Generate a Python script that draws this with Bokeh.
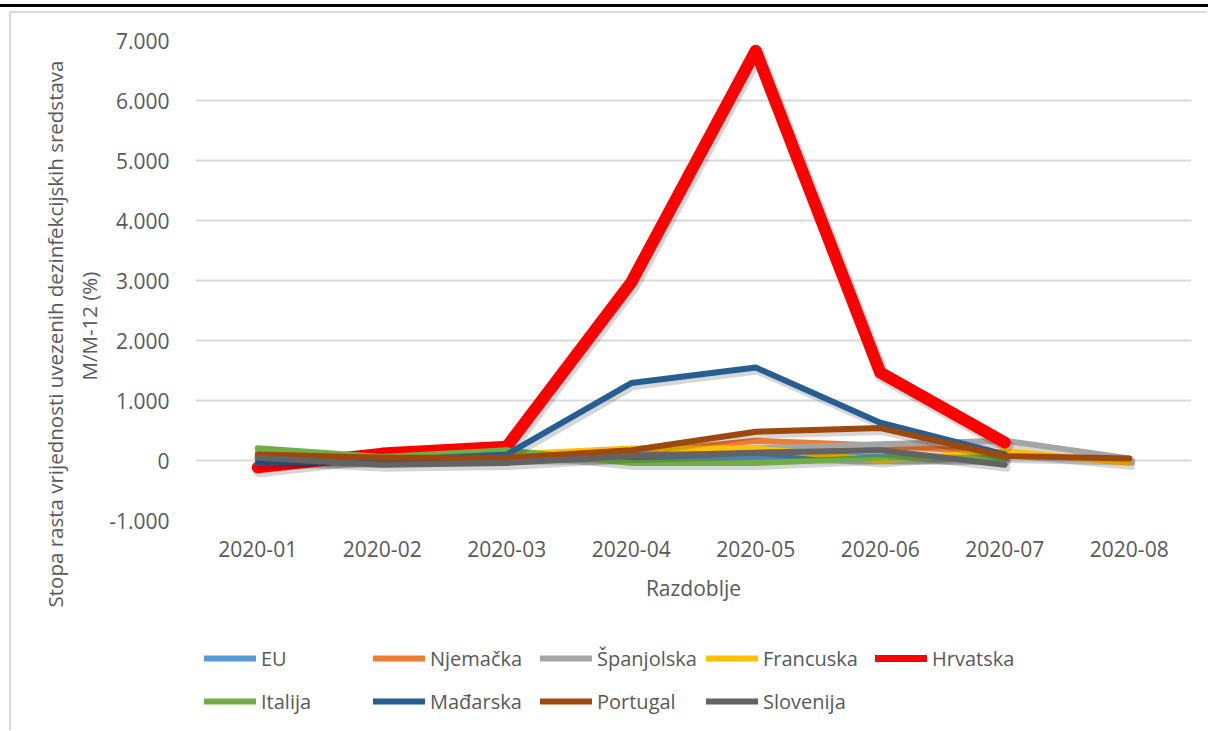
from bokeh.plotting import figure
from bokeh.models import FixedTicker, Legend, LegendItem, Title, Div, Range1d
from bokeh.layouts import column
from bokeh.embed import file_html
from bokeh.resources import INLINE

nan = float("nan")

# ---- data ----
periods = ["2020-01", "2020-02", "2020-03", "2020-04", "2020-05", "2020-06", "2020-07", "2020-08"]
y_ticks = [-1000, 0, 1000, 2000, 3000, 4000, 5000, 6000, 7000]
y_tick_labels = ["-1.000", "0", "1.000", "2.000", "3.000", "4.000", "5.000", "6.000", "7.000"]

eu = [20, 10, 40, 50, 50, 60, 40, nan]
njemacka = [60, 30, 60, 120, 330, 250, 130, nan]
spanjolska = [50, 0, 50, 100, 200, 270, 330, 35]
francuska = [150, 60, 100, 200, 200, 0, 160, -40]
hrvatska = [-115, 115, 230, 2970, 6830, 1465, 300, nan]
italija = [205, 60, 170, -40, -40, 45, 45, nan]
madarska = [-40, 0, 100, 1290, 1550, 630, 100, nan]
portugal = [100, 45, 45, 170, 480, 540, 75, 35]
slovenija = [45, -70, -40, 75, 130, 170, -70, nan]

series_names = ["EU", "Njemačka", "Španjolska", "Francuska", "Hrvatska",
                "Italija", "Mađarska", "Portugal", "Slovenija"]
series_values = [eu, njemacka, spanjolska, francuska, hrvatska,
                 italija, madarska, portugal, slovenija]
series_colors = ["#5B9BD5", "#ED7D31", "#A5A5A5", "#FFC000", "#FF0000",
                 "#70AD47", "#255E91", "#9E480E", "#636363"]
series_widths = [6, 6, 6, 6, 12, 6, 6, 6, 6]

y_title = ["Stopa rasta vrijednosti uvezenih dezinfekcijskih sredstava", "M/M-12 (%)"]
x_title = "Razdoblje"

FONT = "Open Sans"
TXT = "#595959"

# ---- layout sizes ----
MW = 1198        # chart width
MH = 609         # main chart height
LH = 110         # legend strip height

# ---- main chart ----
p = figure(width=MW, height=MH, output_backend="svg", toolbar_location=None,
           x_range=Range1d(-0.5, 7.5), y_range=Range1d(-1000, 7000),
           min_border_left=186, min_border_right=16, min_border_top=29,
           min_border_bottom=100)
p.outline_line_color = None
p.background_fill_color = "white"
p.border_fill_alpha = 0

p.xaxis.ticker = FixedTicker(ticks=list(range(len(periods))))
p.xaxis.major_label_overrides = {i: s for i, s in enumerate(periods)}
p.yaxis.ticker = FixedTicker(ticks=y_ticks)
p.yaxis.major_label_overrides = {t: s for t, s in zip(y_ticks, y_tick_labels)}
for ax in (p.xaxis, p.yaxis):
    ax.axis_line_color = None
    ax.major_tick_line_color = None
    ax.minor_tick_line_color = None
    ax.major_tick_out = 0
    ax.major_tick_in = 0
    ax.minor_tick_out = 0
    ax.major_label_text_font = FONT
    ax.major_label_text_font_size = "21px"
    ax.major_label_text_color = TXT
p.xaxis.major_label_standoff = 20
p.yaxis.major_label_standoff = 26
p.xaxis.axis_label = x_title
p.xaxis.axis_label_text_font = FONT
p.xaxis.axis_label_text_font_size = "21px"
p.xaxis.axis_label_text_font_style = "normal"
p.xaxis.axis_label_text_color = TXT
p.xaxis.axis_label_standoff = 14

# y title: two vertical lines in the left panel
p.add_layout(Title(text=y_title[1], align="left", offset=140, standoff=8,
                   text_font=FONT, text_font_size="20.5px", text_font_style="normal",
                   text_color=TXT), "left")
p.add_layout(Title(text=y_title[0], align="left", offset=-87, standoff=0,
                   text_font=FONT, text_font_size="20.5px", text_font_style="normal",
                   text_color=TXT), "left")

p.xgrid.grid_line_color = None
p.ygrid.grid_line_color = "#D9D9D9"
p.ygrid.grid_line_width = 2
p.ygrid.ticker = FixedTicker(ticks=y_ticks)

xs = list(range(len(periods)))
SH_DX = 2 / 124.5
SH_DY = 3 * 1000 / 60
for vals, col, lw in zip(series_values, series_colors, series_widths):
    p.line([x + SH_DX for x in xs], [v - SH_DY for v in vals], line_color="black",
           line_alpha=0.16, line_width=lw + 2, line_join="round", line_cap="round")
    p.line(xs, vals, line_color=col, line_width=lw, line_join="round", line_cap="round")

# ---- legend strip ----
lf = figure(width=MW, height=LH, output_backend="svg", toolbar_location=None,
            x_range=Range1d(0, 1), y_range=Range1d(0, 1),
            x_axis_type=None, y_axis_type=None, min_border=0,
            min_border_left=0, min_border_right=0, min_border_top=0, min_border_bottom=0)
lf.outline_line_color = None
lf.grid.visible = False
lf.border_fill_alpha = 0
lf.background_fill_alpha = 0

legend_cols = [9, 178, 345, 511, 680]
legend_rows = [58, 15]
for i, (name, col) in enumerate(zip(series_names, series_colors)):
    # off-range sample line, only used as the legend swatch
    r = lf.line([5, 6], [5, 6], line_color=col,
                line_width=7 if name == "Hrvatska" else 6, line_cap="round")
    rw = 0 if i < 5 else 1
    c = i if i < 5 else i - 5
    lg = Legend(items=[LegendItem(label=name, renderers=[r])],
                location=(legend_cols[c], legend_rows[rw]),
                orientation="horizontal", padding=0, margin=0, spacing=0,
                glyph_width=52, glyph_height=28, label_height=28, label_standoff=5,
                label_text_font=FONT, label_text_font_size="20px",
                label_text_color=TXT, border_line_color=None,
                background_fill_alpha=0, label_text_baseline="middle")
    lf.add_layout(lg, "center")

header = Div(text="", width=MW + 10, height=3, margin=(4, 0, 0, 0),
             styles={"background-color": "black"})

body = column(p, lf, spacing=0, margin=(4, 0, 0, 9),
              styles={"box-shadow": "inset 2px 2px 0 0 #D9D9D9"})

layout = column(header, body, spacing=0)
open("out.html", "w").write(file_html(layout, INLINE))
